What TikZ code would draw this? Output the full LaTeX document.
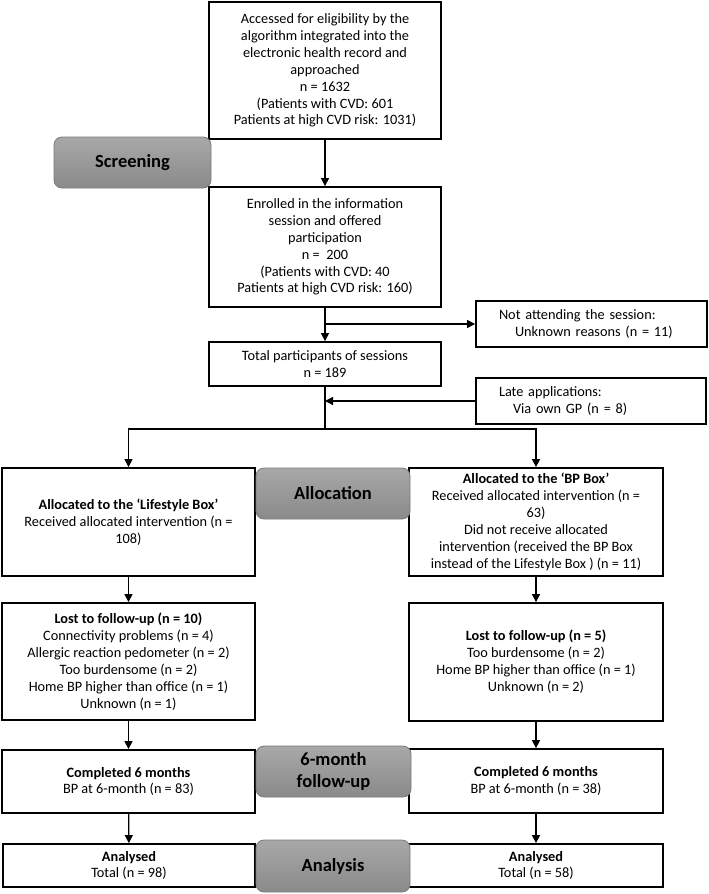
\documentclass[tikz,border=0pt]{standalone}
\usepackage{fontspec}
\setmainfont{Carlito}
\usetikzlibrary{arrows.meta}
\definecolor{stTop}{HTML}{A8A8A8}
\definecolor{stBot}{HTML}{8A8A8A}
\definecolor{stLine}{HTML}{7A7A7A}
\begin{document}
\begin{tikzpicture}[x=1pt,y=-1pt,
  box/.style={draw=black, line width=1.8pt, fill=white, align=center, inner sep=0pt,
    font=\fontsize{14.3}{16.9}\selectfont},
  sidebox/.style={box, align=left, inner xsep=23pt, inner ysep=0pt},
  stage/.style={draw=stLine, line width=0.8pt, rounded corners=8pt, top color=stTop, bottom color=stBot,
    align=center, inner sep=0pt, font=\fontsize{18.5}{22.5}\selectfont\bfseries},
  arr/.style={line width=1.2pt, -{Triangle[length=8pt,width=8pt]}},
  ln/.style={line width=1.2pt}]
\useasboundingbox (0,0) rectangle (709,894);

% main column
\node[box, minimum width=232pt, minimum height=137pt] (b1) at (325,70.5)
  {Accessed for eligibility by the\\algorithm integrated into the\\electronic health record and\\approached\\n = 1632\\(Patients with CVD: 601\\Patients at high CVD risk: 1031)};
\node[box, minimum width=232pt, minimum height=120pt] (b2) at (325,247)
  {Enrolled in the information\\session and offered\\participation\\n = \ 200\\(Patients with CVD: 40\\Patients at high CVD risk: 160)};
\node[box, minimum width=232pt, minimum height=44pt] (b3) at (325,364)
  {Total participants of sessions\\n = 189};

% side boxes
\node[sidebox, text width=185pt, minimum height=46pt] (na) at (591.5,324)
  {Not attending the session:\\\hspace*{16pt}Unknown reasons (n = 11)};
\node[sidebox, text width=184pt, minimum height=46pt] (la) at (591,401)
  {Late applications:\\\hspace*{14pt}Via own GP (n = 8)};

% allocation
\node[box, minimum width=253pt, minimum height=108pt] (life) at (128.5,522)
  {\textbf{Allocated to the ‘Lifestyle Box’}\\Received allocated intervention (n =\\108)};
\node[box, minimum width=254pt, minimum height=108pt] (bp) at (536,522)
  {\textbf{Allocated to the ‘BP Box’}\\Received allocated intervention (n =\\63)\\Did not receive allocated\\intervention (received the BP Box\\instead of the Lifestyle Box ) (n = 11)};

% lost to follow-up
\node[box, minimum width=253pt, minimum height=117pt] (lostL) at (128.5,661.5)
  {\textbf{Lost to follow-up (n = 10)}\\Connectivity problems (n = 4)\\Allergic reaction pedometer (n = 2)\\Too burdensome (n = 2)\\Home BP higher than office (n = 1)\\Unknown (n = 1)};
\node[box, minimum width=254pt, minimum height=118pt] (lostR) at (536,662)
  {\textbf{Lost to follow-up (n = 5)}\\Too burdensome (n = 2)\\Home BP higher than office (n = 1)\\Unknown (n = 2)};

% completed
\node[box, minimum width=253pt, minimum height=63pt] (compL) at (128.5,781.5)
  {\textbf{Completed 6 months}\\BP at 6-month (n = 83)};
\node[box, minimum width=254pt, minimum height=64pt] (compR) at (536,781)
  {\textbf{Completed 6 months}\\BP at 6-month (n = 38)};

% analysed
\node[box, minimum width=252pt, minimum height=43pt] (anL) at (129,865.5)
  {\textbf{Analysed}\\Total (n = 98)};
\node[box, minimum width=254pt, minimum height=43pt] (anR) at (536,865.5)
  {\textbf{Analysed}\\Total (n = 58)};

% connectors
\draw[arr] (b1) -- (b2);
\draw[arr] (b2) -- (b3);
\draw[arr] (b2.south |- na.west) -- (na.west);
\draw[arr] (la.west) -- (la.west -| b3.south);
\coordinate (split) at (325,429);
\draw[ln] (b3.south) -- (split);
\draw[arr] (split) -| (life.north);
\draw[arr] (split) -| (bp.north);
\draw[arr] (life) -- (lostL);
\draw[arr] (bp) -- (lostR);
\draw[arr] (lostL) -- (compL);
\draw[arr] (lostR) -- (compR);
\draw[arr] (compL) -- (anL);
\draw[arr] (compR) -- (anR);

% stage labels
\node[stage, minimum width=157pt, minimum height=51pt] (s1) at (132.5,162.5) {Screening};
\node[stage, minimum width=154pt, minimum height=51pt] (s2) at (333,493.5) {Allocation};
\node[stage, minimum width=155pt, minimum height=51pt] (s3) at (333.5,771.5) {6-month\\follow-up};
\node[stage, minimum width=154pt, minimum height=52pt] (s4) at (333,866) {Analysis};
\end{tikzpicture}
\end{document}
